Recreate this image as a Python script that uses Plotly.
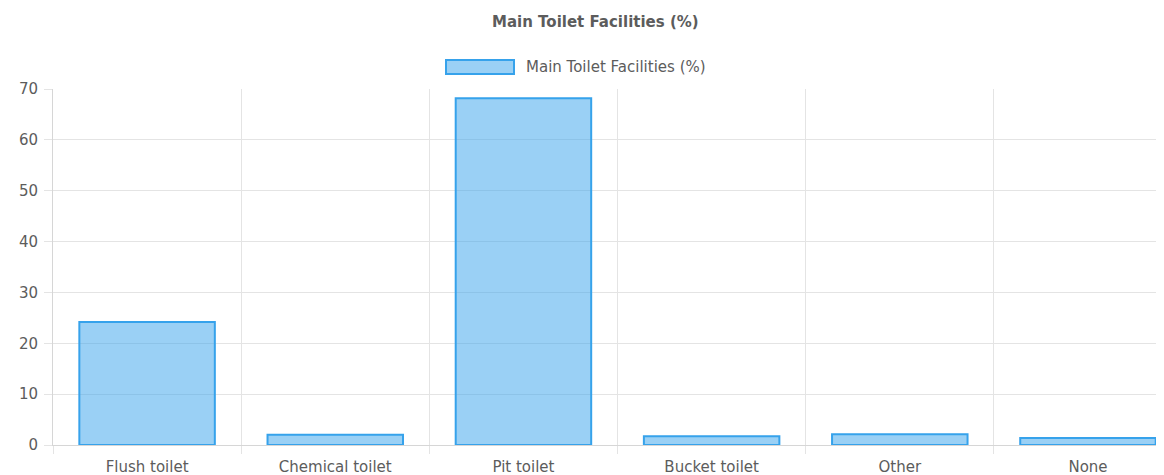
import plotly.graph_objects as go

categories = ["Flush toilet", "Chemical toilet", "Pit toilet", "Bucket toilet", "Other", "None"]
values = [24.2, 2.0, 68.2, 1.7, 2.1, 1.4]
series_name = "Main Toilet Facilities (%)"
chart_title = "Main Toilet Facilities (%)"
y_ticks = [0, 10, 20, 30, 40, 50, 60, 70]

FILL = "rgba(54,162,235,0.5)"
LINE = "rgb(54,162,235)"
TXT = "#5c5c5c"
GRID = "#e4e4e4"
FONT = "DejaVu Sans, Verdana, sans-serif"

# page body has an 8px default margin; compensate so screen positions match
OFF = 8
W, H = 1164 - OFF, 475 - OFF
L, R, T, B = 53 - OFF, 0, 89 - OFF, 30
pw = W - L - R
ph = H - T - B

fig = go.Figure()
fig.add_trace(go.Bar(
    x=categories, y=values, name=series_name,
    marker=dict(color=FILL, line=dict(color=LINE, width=2)),
    width=0.72, showlegend=False,
))

fig.update_layout(
    width=W, height=H,
    margin=dict(l=L, r=R, t=T, b=B, pad=0),
    paper_bgcolor="white", plot_bgcolor="white",
    font=dict(family=FONT, color=TXT, size=15),
    showlegend=False,
)
fig.update_xaxes(
    type="category", range=[-0.5, 5.404],
    showgrid=True, gridcolor=GRID, gridwidth=1,
    tickson="boundaries", ticks="outside", ticklen=8, tickcolor=GRID,
    showline=True, linecolor="#d6d6d6", linewidth=1,
    tickfont=dict(size=15, color=TXT), ticklabelstandoff=8,
)
fig.update_yaxes(
    range=[0, 70], tickvals=y_ticks,
    showgrid=True, gridcolor=GRID, gridwidth=1,
    ticks="outside", ticklen=8, tickcolor=GRID,
    showline=True, linecolor="#d6d6d6", linewidth=1,
    zeroline=False,
    tickfont=dict(size=15, color=TXT), ticklabelstandoff=3,
)

def px_x(x):
    return (x - OFF - L) / pw

def px_y(y):
    return 1 - (y - OFF - T) / ph

# title
fig.add_annotation(text="<b>" + chart_title + "</b>", xref="paper", yref="paper",
                   x=px_x(595), y=px_y(22), xanchor="center", yanchor="middle",
                   showarrow=False, font=dict(size=15, color=TXT, family=FONT))
# legend
fig.add_shape(type="rect", xref="paper", yref="paper",
              x0=px_x(446), x1=px_x(514), y0=px_y(60), y1=px_y(74),
              fillcolor=FILL, line=dict(color=LINE, width=2))
fig.add_annotation(text=series_name, xref="paper", yref="paper",
                   x=px_x(524), y=px_y(67), xanchor="left", yanchor="middle",
                   showarrow=False, font=dict(size=15, color=TXT, family=FONT))

fig.write_html("out.html")
